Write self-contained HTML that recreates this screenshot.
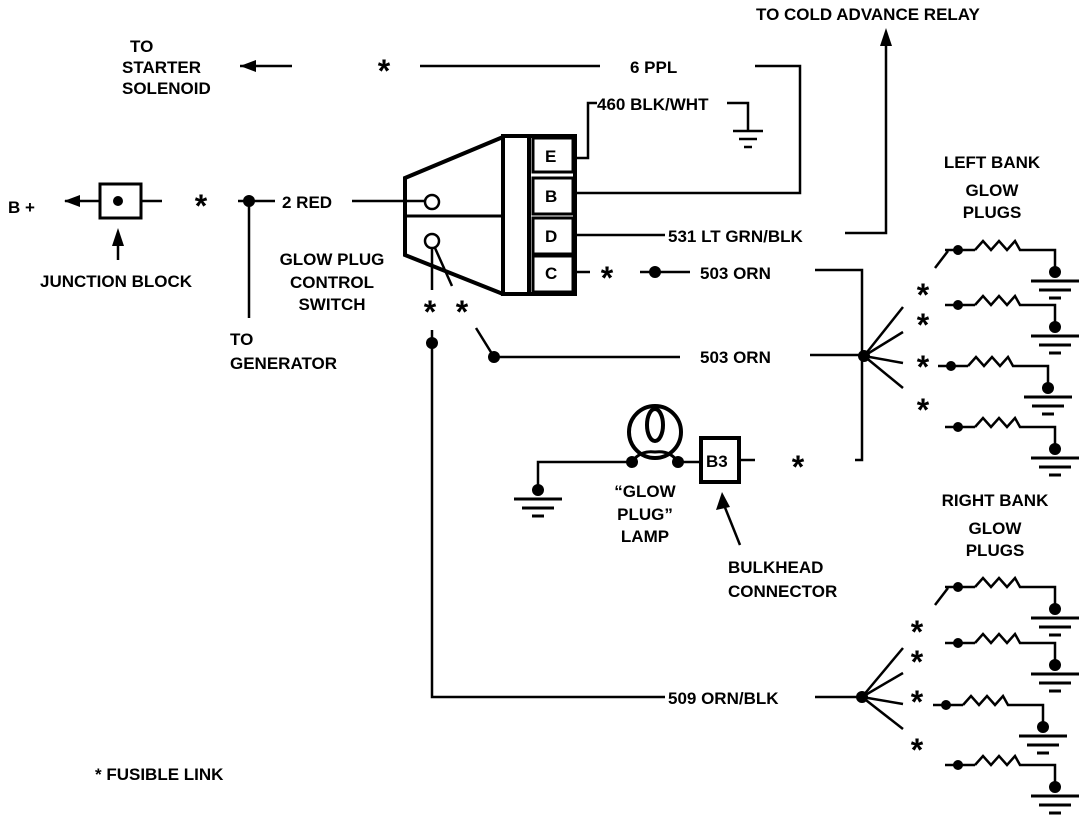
<!DOCTYPE html>
<html><head><meta charset="utf-8"><style>
html,body{margin:0;padding:0;background:#fff}
svg{display:block}
text{font-family:"Liberation Sans",sans-serif;font-weight:bold;font-size:17px;fill:#000}
.s{font-size:32px;text-anchor:middle}
</style></head><body>
<svg width="1088" height="828" viewBox="0 0 1088 828" xmlns="http://www.w3.org/2000/svg">
<defs>
<g id="gp">
 <line x1="945" y1="0" x2="975" y2="0" stroke="#000" stroke-width="2.5"/>
 <circle cx="958" cy="0" r="5"/>
 <polyline points="975,0 983,-9 991,0 999,-9 1007,0 1015,-9 1020,0 1055,0 1055,22" fill="none" stroke="#000" stroke-width="2.5"/>
 <circle cx="1055" cy="22" r="6"/>
 <line x1="1031" y1="31" x2="1079" y2="31" stroke="#000" stroke-width="3"/>
 <line x1="1039" y1="40" x2="1071" y2="40" stroke="#000" stroke-width="3"/>
 <line x1="1049" y1="48" x2="1061" y2="48" stroke="#000" stroke-width="3"/>
</g>
<g id="gnd">
 <circle cx="0" cy="0" r="6"/>
 <line x1="-24" y1="9" x2="24" y2="9" stroke="#000" stroke-width="3"/>
 <line x1="-16" y1="18" x2="16" y2="18" stroke="#000" stroke-width="3"/>
 <line x1="-6" y1="26" x2="6" y2="26" stroke="#000" stroke-width="3"/>
</g>
</defs>
<g stroke="#000" stroke-width="2.5" fill="none">
 <line x1="240" y1="66" x2="292" y2="66"/>
 <line x1="420" y1="66" x2="600" y2="66"/>
 <polyline points="755,66 800,66 800,193 575,193"/>
 <polyline points="575,158 588,158 588,103 597,103"/>
 <polyline points="727,103 748,103 748,130"/>
 <line x1="733" y1="131" x2="763" y2="131"/><line x1="739" y1="139" x2="757" y2="139"/><line x1="744" y1="147" x2="752" y2="147"/>
 <line x1="575" y1="235" x2="665" y2="235"/>
 <polyline points="845,233 886,233 886,40"/>
 <rect x="503" y="136" width="72" height="158" stroke-width="4"/>
 <line x1="529" y1="136" x2="529" y2="294" stroke-width="4"/>
 <rect x="533" y="138" width="40" height="34" stroke-width="3"/>
 <rect x="533" y="178" width="40" height="36" stroke-width="3"/>
 <rect x="533" y="218" width="40" height="36" stroke-width="3"/>
 <rect x="533" y="256" width="40" height="36" stroke-width="3"/>
 <polyline points="503,137 405,178 405,255 503,294" stroke-width="4"/>
 <line x1="405" y1="216" x2="503" y2="216" stroke-width="3"/>
 <circle cx="432" cy="202" r="7"/>
 <circle cx="432" cy="241" r="7"/>
 <line x1="65" y1="201" x2="100" y2="201"/>
 <rect x="100" y="184" width="41" height="34" stroke-width="3"/>
 <line x1="141" y1="201" x2="162" y2="201"/>
 <line x1="238" y1="201" x2="275" y2="201"/>
 <line x1="352" y1="201" x2="425" y2="201"/>
 <line x1="249" y1="201" x2="249" y2="318"/>
 <line x1="118" y1="242" x2="118" y2="260"/>
 <line x1="432" y1="248" x2="432" y2="290"/>
 <line x1="435" y1="248" x2="452" y2="286"/>
 <polyline points="432,330 432,697 665,697"/>
 <line x1="815" y1="697" x2="862" y2="697"/>
 <polyline points="476,328 494,357 680,357"/>
 <line x1="810" y1="355" x2="862" y2="355"/>
 <line x1="575" y1="272" x2="590" y2="272"/>
 <line x1="640" y1="272" x2="690" y2="272"/>
 <polyline points="815,270 862,270 862,460 855,460"/>
 <line x1="740" y1="460" x2="755" y2="460"/>
 <line x1="864" y1="356" x2="903" y2="307"/><line x1="864" y1="356" x2="903" y2="332"/><line x1="864" y1="356" x2="903" y2="363"/><line x1="864" y1="356" x2="903" y2="388"/>
 <line x1="862" y1="697" x2="903" y2="648"/><line x1="862" y1="697" x2="903" y2="673"/><line x1="862" y1="697" x2="903" y2="704"/><line x1="862" y1="697" x2="903" y2="729"/>
 <line x1="935" y1="268" x2="948" y2="251"/>
 <line x1="935" y1="605" x2="948" y2="588"/>
 <polyline points="538,490 538,462 632,462"/>
 <circle cx="655" cy="432" r="26" stroke-width="4"/>
 <ellipse cx="655" cy="425" rx="8" ry="16" stroke-width="4"/>
 <path d="M632,462 Q640,450 655,452 Q670,450 678,462" stroke-width="3"/>
 <line x1="678" y1="462" x2="700" y2="462"/>
 <rect x="701" y="438" width="38" height="44" stroke-width="4"/>
 <line x1="740" y1="545" x2="724" y2="505"/>
</g>
<polygon points="240,66 256,60 256,72"/>
<polygon points="64,201 80,195 80,207"/>
<polygon points="118,228 112,246 124,246"/>
<polygon points="886,28 880,46 892,46"/>
<polygon points="722,492 716,510 730,507"/>
<circle cx="118" cy="201" r="5"/>
<circle cx="249" cy="201" r="6"/>
<circle cx="432" cy="343" r="6"/>
<circle cx="494" cy="357" r="6"/>
<circle cx="655" cy="272" r="6"/>
<circle cx="864" cy="356" r="6"/>
<circle cx="862" cy="697" r="6"/>
<circle cx="632" cy="462" r="6"/>
<circle cx="678" cy="462" r="6"/>
<use href="#gnd" x="538" y="490"/>
<use href="#gp" x="0" y="250"/>
<use href="#gp" x="0" y="305"/>
<use href="#gp" x="-7" y="366"/>
<use href="#gp" x="0" y="427"/>
<use href="#gp" x="0" y="587"/>
<use href="#gp" x="0" y="643"/>
<use href="#gp" x="-12" y="705"/>
<use href="#gp" x="0" y="765"/>
<text x="130" y="52">TO</text>
<text x="122" y="73">STARTER</text>
<text x="122" y="94">SOLENOID</text>
<text class="s" x="384" y="82">*</text>
<text x="630" y="73">6 PPL</text>
<text x="756" y="20">TO COLD ADVANCE RELAY</text>
<text x="597" y="110">460 BLK/WHT</text>
<text x="545" y="162" font-size="12">E</text>
<text x="545" y="202" font-size="12">B</text>
<text x="545" y="242" font-size="12">D</text>
<text x="545" y="279" font-size="12">C</text>
<text x="668" y="242">531 LT GRN/BLK</text>
<text x="8" y="213" font-size="15">B +</text>
<text class="s" x="201" y="217">*</text>
<text x="282" y="208">2 RED</text>
<text x="40" y="287">JUNCTION BLOCK</text>
<text x="332" y="265" text-anchor="middle">GLOW PLUG</text>
<text x="332" y="288" text-anchor="middle">CONTROL</text>
<text x="332" y="310" text-anchor="middle">SWITCH</text>
<text x="230" y="345">TO</text>
<text x="230" y="369">GENERATOR</text>
<text class="s" x="430" y="323">*</text>
<text class="s" x="462" y="323">*</text>
<text class="s" x="607" y="289">*</text>
<text x="700" y="279">503 ORN</text>
<text x="700" y="363">503 ORN</text>
<text class="s" x="798" y="478">*</text>
<text x="706" y="467">B3</text>
<text x="645" y="497" text-anchor="middle">“GLOW</text>
<text x="645" y="520" text-anchor="middle">PLUG”</text>
<text x="645" y="542" text-anchor="middle">LAMP</text>
<text x="728" y="573">BULKHEAD</text>
<text x="728" y="597">CONNECTOR</text>
<text x="668" y="704">509 ORN/BLK</text>
<text x="992" y="168" text-anchor="middle">LEFT BANK</text>
<text x="992" y="196" text-anchor="middle">GLOW</text>
<text x="992" y="218" text-anchor="middle">PLUGS</text>
<text x="995" y="506" text-anchor="middle">RIGHT BANK</text>
<text x="995" y="534" text-anchor="middle">GLOW</text>
<text x="995" y="556" text-anchor="middle">PLUGS</text>
<text class="s" x="923" y="306">*</text>
<text class="s" x="923" y="336">*</text>
<text class="s" x="923" y="378">*</text>
<text class="s" x="923" y="421">*</text>
<text class="s" x="917" y="643">*</text>
<text class="s" x="917" y="673">*</text>
<text class="s" x="917" y="713">*</text>
<text class="s" x="917" y="761">*</text>
<text x="95" y="780">* FUSIBLE LINK</text>
</svg>
</body></html>
